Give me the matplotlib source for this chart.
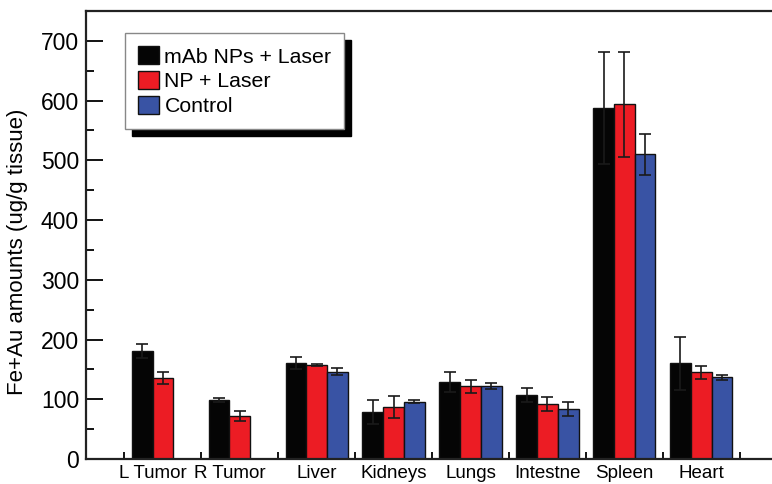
import numpy as np
import matplotlib.pyplot as plt
from matplotlib.ticker import MultipleLocator, FixedLocator

plt.rcParams['font.family'] = ['Liberation Sans', 'DejaVu Sans']

organs = ['L Tumor', 'R Tumor', 'Liver', 'Kidneys', 'Lungs', 'Intestne', 'Spleen', 'Heart']
series = ['mAb NPs + Laser', 'NP + Laser', 'Control']
colors = ['#050505', '#ec1c24', '#3953a4']

mab = [181, 99, 161, 79, 129, 107, 588, 160]
mab_err = [12, 3, 10, 20, 17, 12, 94, 45]
np_laser = [136, 72, 157, 87, 122, 92, 594, 145]
np_err = [10, 8, 2, 18, 11, 12, 88, 11]
control = [np.nan, np.nan, 146, 96, 122, 84, 510, 137]
control_err = [np.nan, np.nan, 6, 3, 5, 12, 34, 4]

values = [mab, np_laser, control]
errors = [mab_err, np_err, control_err]

fig = plt.figure(figsize=(7.72, 4.84), dpi=100)
ax = fig.add_axes([0.1114, 0.0517, 0.8886, 0.9256])

x = np.arange(1, len(organs) + 1)
w = 0.27
for i, (vals, errs) in enumerate(zip(values, errors)):
    ax.bar(x + (i - 1) * w, vals, w, color=colors[i], edgecolor='#111111',
           linewidth=1.0, label=series[i], zorder=2)
    ax.errorbar(x + (i - 1) * w, vals, yerr=errs, fmt='none', ecolor='#1a1a1a',
                elinewidth=1.2, capsize=4, capthick=1.2, zorder=3)

# labels sit under the bars that exist (tumors have no control bar)
label_pos = np.array([xi - w / 2 if np.isnan(c) else xi for xi, c in zip(x, control)])

ax.set_xlim(0, 8.92)
ax.set_ylim(0, 750)
ax.yaxis.set_minor_locator(MultipleLocator(50))
ax.set_yticks(range(0, 701, 100))
ax.set_xticks(label_pos)
ax.set_xticklabels(organs, fontsize=13.5)
ax.xaxis.set_minor_locator(FixedLocator(np.concatenate([np.arange(0.5, 9, 1.0), x])))
ax.tick_params(axis='y', which='major', direction='in', length=12, width=1.3,
               labelsize=16.5, pad=5)
ax.tick_params(axis='y', which='minor', direction='in', length=6, width=1.3)
ax.tick_params(axis='x', which='major', length=0, pad=4)
ax.tick_params(axis='x', which='minor', direction='in', length=5, width=1.3)
ax.tick_params(axis='both', which='both', top=False, right=False)

for s in ['left', 'bottom', 'top']:
    ax.spines[s].set_linewidth(1.6)
    ax.spines[s].set_color('#222222')
ax.spines['right'].set_visible(False)

ax.set_ylabel('Fe+Au amounts (ug/g tissue)', fontsize=16)
ax.yaxis.set_label_coords(-0.0845, 0.462)

leg = ax.legend(loc='upper left', bbox_to_anchor=(0.057, 0.95), fontsize=15.3,
                fancybox=False, framealpha=1, edgecolor='#888888',
                shadow={'color': 'black', 'alpha': 1, 'ox': 5, 'oy': -5},
                handlelength=1.0, handleheight=0.95, handletextpad=0.25,
                borderpad=0.6, labelspacing=0.2, borderaxespad=0)
leg.get_frame().set_linewidth(1.0)

fig.savefig('out.png', dpi=100)
